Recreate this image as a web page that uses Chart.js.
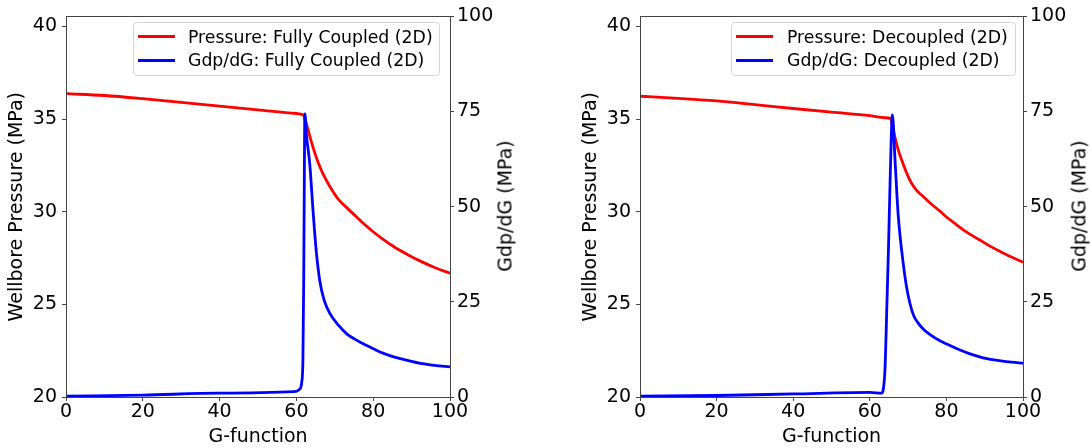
<!DOCTYPE html>
<html><head><meta charset="utf-8">
<script src="https://cdn.jsdelivr.net/npm/chart.js@4.4.0/dist/chart.umd.min.js"></script>
<style>
html,body{margin:0;padding:0;background:#fff;width:1092px;height:448px;overflow:hidden;position:relative;font-family:"DejaVu Sans",sans-serif;color:#000;}
canvas{position:absolute;top:0;}
.legend{position:absolute;box-sizing:border-box;border:1px solid #d5d5d5;border-radius:4px;background:rgba(255,255,255,0.8);height:54px;top:22px;font-size:17.3px;}
.row{position:absolute;left:0;right:0;height:20px;line-height:20px;white-space:nowrap;}
.swatch{position:absolute;top:8.5px;width:37px;height:3px;}
.ltext{position:absolute;top:0;}
.rtitle{position:absolute;font-size:19px;line-height:19px;white-space:nowrap;transform:translate(-50%,-50%) rotate(-90deg);}
</style>
</head><body>
<canvas id="c1" width="496" height="448" style="left:4px"></canvas>
<canvas id="c2" width="495" height="448" style="left:578px"></canvas>
<div class="rtitle" id="rt1" style="left:505.4px;top:205.5px"></div>
<div class="rtitle" id="rt2" style="left:1079.4px;top:205.5px"></div>
<div class="legend" id="lg1" style="left:133px;width:307px"></div>
<div class="legend" id="lg2" style="left:731px;width:285px"></div>
<script>
// ---- data ----
const xTicks = [0, 20, 40, 60, 80, 100];
const pressureTicks = [20, 25, 30, 35, 40];
const gdpTicks = [0, 25, 50, 75, 100];

const xTitle = 'G-function';
const pressureTitle = 'Wellbore Pressure (MPa)';
const gdpTitle = 'Gdp/dG (MPa)';

// Fully Coupled (2D)
const coupledPressureLabel = 'Pressure: Fully Coupled (2D)';
const coupledGdpLabel = 'Gdp/dG: Fully Coupled (2D)';
const coupledPressureG = [0, 10, 20, 30, 40, 50, 60, 61.8, 62.3, 63, 63.8, 64.6, 65.5, 66.8, 68.75, 71, 73.1, 75.5, 77.4, 80, 82.5, 85.6, 89, 92, 96, 100];
const coupledPressure  = [36.37, 36.27, 36.1, 35.9, 35.7, 35.5, 35.3, 35.22, 34.95, 34.45, 33.85, 33.3, 32.75, 32.1, 31.35, 30.65, 30.22, 29.75, 29.38, 28.92, 28.52, 28.08, 27.68, 27.36, 26.99, 26.68];
const coupledGdpG = [0, 20, 40, 59.5, 60.8, 61.4, 61.7, 61.9, 62.05, 62.2, 62.6, 63.5, 64.4, 65.2, 66.1, 67.2, 68.75, 71, 73.1, 75.2, 77.4, 79.6, 81.8, 84.5, 87.4, 92, 96, 100];
const coupledGdp  = [0.2, 0.5, 1.0, 1.4, 2.0, 4.0, 10, 30, 55, 74.4, 69, 61, 48, 38, 30.5, 25.5, 21.9, 18.8, 16.6, 15.2, 14.0, 12.9, 11.8, 10.8, 10.0, 8.9, 8.3, 7.9];

// Decoupled (2D)
const decoupledPressureLabel = 'Pressure: Decoupled (2D)';
const decoupledGdpLabel = 'Gdp/dG: Decoupled (2D)';
const decoupledPressureG = [0, 10, 20, 30, 40, 50, 60, 64, 65.45, 65.9, 66.6, 67.4, 68.3, 69.5, 70.6, 72, 73.5, 75.6, 78.3, 80.1, 82.5, 84.7, 87, 89.3, 91.5, 93.8, 97, 100];
const decoupledPressure  = [36.23, 36.12, 35.98, 35.78, 35.57, 35.37, 35.18, 35.07, 35.03, 34.65, 34.0, 33.35, 32.8, 32.15, 31.65, 31.2, 30.9, 30.5, 30.03, 29.7, 29.32, 28.98, 28.68, 28.4, 28.13, 27.88, 27.55, 27.27];
const decoupledGdpG = [0, 20, 40, 60, 63.1, 63.6, 64.0, 64.4, 64.9, 65.3, 65.9, 66.6, 67.4, 68.75, 69.5, 70.5, 71.5, 72.5, 74, 76, 78.3, 80.1, 82.5, 84.7, 87, 89.3, 91.5, 93.8, 97, 100];
const decoupledGdp  = [0.2, 0.4, 0.8, 1.2, 1.0, 2.5, 8, 21.9, 40, 56.7, 74.1, 62, 48, 34.9, 29.5, 24.5, 21.3, 19.6, 17.8, 16.2, 14.8, 13.9, 12.8, 11.9, 11.05, 10.35, 9.9, 9.55, 9.15, 8.9];

// ---- rendering ----
const FONT = {family: '"DejaVu Sans", sans-serif', size: 19};
const AXIS = '#444';
const RED = '#ff0000', BLUE = '#0000ff';

const framePlugin = {
  id: 'frame',
  afterDatasetsDraw(chart) {
    const {ctx, chartArea: a} = chart;
    ctx.save();
    ctx.strokeStyle = AXIS; ctx.lineWidth = 1;
    ctx.strokeRect(Math.round(a.left) + 0.5, Math.round(a.top) + 0.5, Math.round(a.right - a.left), Math.round(a.bottom - a.top));
    ctx.restore();
  }
};

function pts(xs, ys) { return xs.map((x, i) => ({x, y: ys[i]})); }
function setTicks(arr) { return s => { s.ticks = arr.map(v => ({value: v})); }; }

function makeChart(id, pG, p, pLabel, gG, g, gLabel) {
  return new Chart(document.getElementById(id), {
    type: 'line',
    data: {datasets: [
      {label: pLabel, data: pts(pG, p), yAxisID: 'y', borderColor: RED, backgroundColor: RED, borderWidth: 2.8, pointRadius: 0, cubicInterpolationMode: 'monotone', fill: false, order: 1},
      {label: gLabel, data: pts(gG, g), yAxisID: 'y2', borderColor: BLUE, backgroundColor: BLUE, borderWidth: 2.8, pointRadius: 0, cubicInterpolationMode: 'monotone', fill: false, order: 0}
    ]},
    options: {
      responsive: false, animation: false, events: [],
      layout: {padding: {top: 14, left: 0, right: 0, bottom: 0}},
      plugins: {legend: {display: false}, tooltip: {enabled: false}},
      scales: {
        x: {type: 'linear', min: 0, max: 100, afterBuildTicks: setTicks(xTicks), afterFit: s => { s.height = 51; },
            grid: {drawOnChartArea: false, drawTicks: true, tickLength: 4, color: AXIS},
            border: {display: true, color: AXIS},
            ticks: {color: '#000', font: FONT, padding: 0, maxRotation: 0, autoSkip: false},
            title: {display: true, text: xTitle, color: '#000', font: FONT, padding: {top: 0, bottom: 0}}},
        y: {type: 'linear', position: 'left', min: 20, max: 40.54, afterBuildTicks: setTicks(pressureTicks), afterFit: s => { s.width = 62; },
            grid: {drawOnChartArea: false, drawTicks: true, tickLength: 4, color: AXIS},
            border: {display: true, color: AXIS},
            ticks: {color: '#000', font: FONT, padding: 5, autoSkip: false},
            title: {display: true, text: pressureTitle, color: '#000', font: FONT, padding: {top: 2, bottom: 0}}},
        y2: {type: 'linear', position: 'right', min: 0, max: 100, afterBuildTicks: setTicks(gdpTicks), afterFit: s => { s.width = 50; },
            grid: {drawOnChartArea: false, drawTicks: true, tickLength: 4, color: AXIS},
            border: {display: true, color: AXIS},
            ticks: {color: '#000', font: FONT, padding: 3, autoSkip: false},
            title: {display: false}}
      }
    },
    plugins: [framePlugin]
  });
}

function makeLegend(elId, items, textLeft) {
  const el = document.getElementById(elId);
  items.forEach((it, i) => {
    const row = document.createElement('div');
    row.className = 'row';
    row.style.top = (i === 0 ? 3.7 : 27) + 'px';
    const sw = document.createElement('div');
    sw.className = 'swatch'; sw.style.left = '4px'; sw.style.background = it.color;
    const tx = document.createElement('span');
    tx.className = 'ltext'; tx.style.left = textLeft + 'px'; tx.textContent = it.label;
    row.appendChild(sw); row.appendChild(tx); el.appendChild(row);
  });
}

makeChart('c1', coupledPressureG, coupledPressure, coupledPressureLabel, coupledGdpG, coupledGdp, coupledGdpLabel);
makeChart('c2', decoupledPressureG, decoupledPressure, decoupledPressureLabel, decoupledGdpG, decoupledGdp, decoupledGdpLabel);
document.getElementById('rt1').textContent = gdpTitle;
document.getElementById('rt2').textContent = gdpTitle;
makeLegend('lg1', [{label: coupledPressureLabel, color: RED}, {label: coupledGdpLabel, color: BLUE}], 54);
makeLegend('lg2', [{label: decoupledPressureLabel, color: RED}, {label: decoupledGdpLabel, color: BLUE}], 55);
</script>
</body></html>
